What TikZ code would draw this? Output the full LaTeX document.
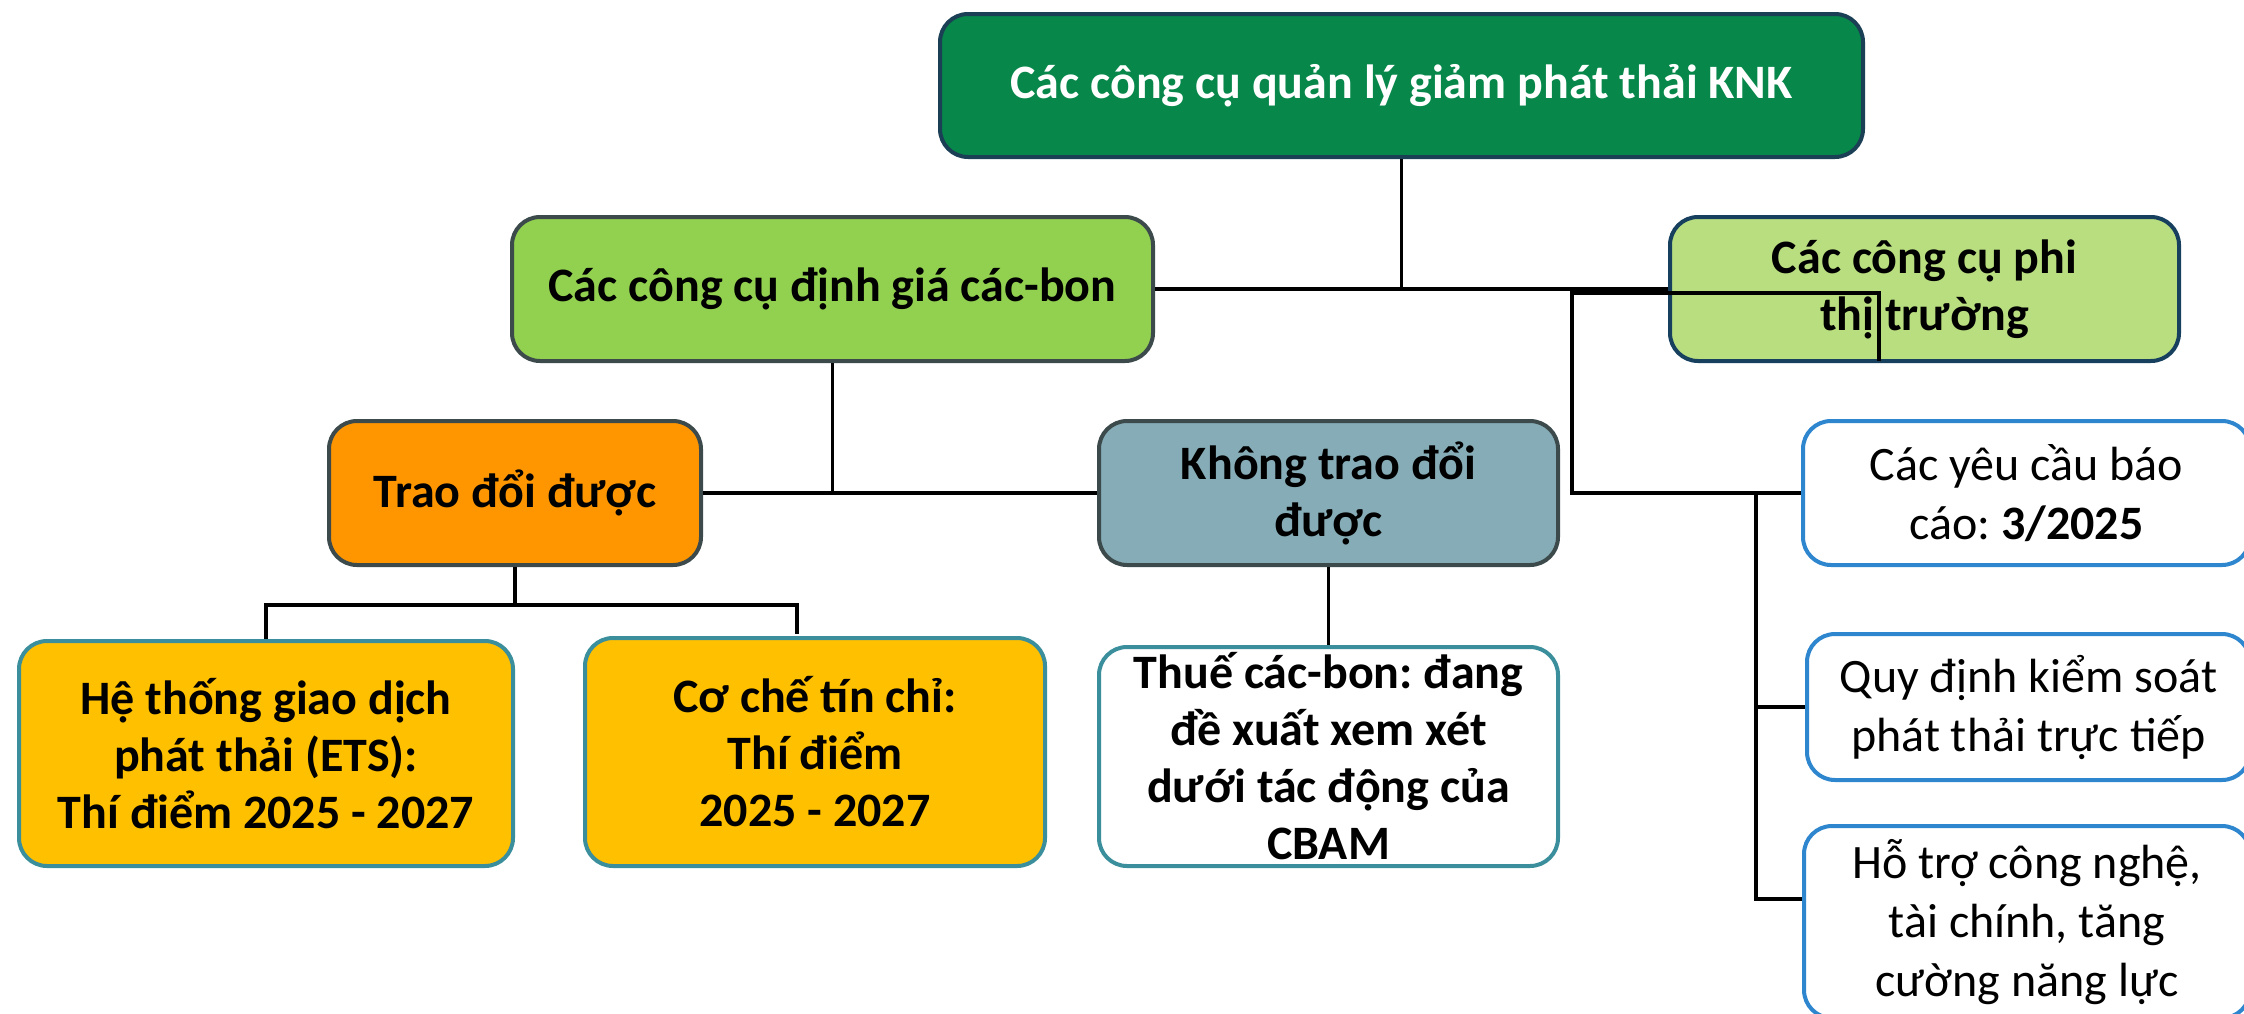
\documentclass[tikz,border=0pt]{standalone}
\usepackage{fontspec}
\setmainfont{Carlito}
\frenchspacing
\definecolor{topfill}{HTML}{07874A}
\definecolor{topline}{HTML}{1B3F55}
\definecolor{carbfill}{HTML}{92D050}
\definecolor{phifill}{HTML}{B9DE80}
\definecolor{philine}{HTML}{17405F}
\definecolor{grayline}{HTML}{3C4A4C}
\definecolor{orfill}{HTML}{FF9600}
\definecolor{khfill}{HTML}{86ADB7}
\definecolor{yelfill}{HTML}{FFC000}
\definecolor{tealline}{HTML}{3B8F9C}
\definecolor{blueline}{HTML}{2E86CE}
\begin{document}
\begin{tikzpicture}[x=0.5pt,y=-0.5pt,
  box/.style={draw, line width=2pt, rounded corners=14pt, inner sep=0pt, align=center,
    font=\frenchspacing\bfseries\fontsize{24}{28.5}\selectfont},
  wbox/.style={box, draw=blueline, fill=white, font=\frenchspacing\fontsize{24}{29.5}\selectfont},
  conn/.style={line width=1.7pt, black}]
\useasboundingbox (0,0) rectangle (2244,1013);

\node[box, fill=topfill, draw=topline, text=white, minimum width=461.5pt, minimum height=71.5pt] (top) at (1401.5,85.5) {Các công cụ quản lý giảm phát thải KNK};
\node[box, fill=carbfill, draw=grayline, minimum width=320.5pt, minimum height=72pt] (carbon) at (832.5,289) {Các công cụ định giá các-bon};
\node[box, fill=phifill, draw=philine, minimum width=254.5pt, minimum height=72pt] (phi) at (1924.5,289) {Các công cụ phi\\thị trường};
\node[box, fill=orfill, draw=grayline, minimum width=186pt, minimum height=72pt] (trao) at (515,493) {Trao đổi được};
\node[box, fill=khfill, draw=grayline, minimum width=229.5pt, minimum height=72pt] (khong) at (1328.5,493) {Không trao đổi\\được};
\node[box, fill=yelfill, draw=tealline, minimum width=247pt, minimum height=112.5pt] (ets) at (266,753.5) {Hệ thống giao dịch\\phát thải (ETS):\\Thí điểm 2025 - 2027};
\node[box, fill=yelfill, draw=tealline, minimum width=230pt, minimum height=114pt] (coche) at (815,752) {Cơ chế tín chỉ:\\Thí điểm\\2025 - 2027};
\node[box, fill=white, draw=tealline, minimum width=229.5pt, minimum height=109.5pt] (thue) at (1328.5,756.5) {Thuế các-bon: đang\\đề xuất xem xét\\dưới tác động của\\CBAM};
\node[wbox, minimum width=223.5pt, minimum height=72pt] (r1) at (2026.5,493) {Các yêu cầu báo\\cáo: \textbf{3/2025}};
\node[wbox, minimum width=221.5pt, minimum height=73pt] (r2) at (2028.5,707) {Quy định kiểm soát\\phát thải trực tiếp};
\node[wbox, minimum width=223pt, minimum height=96pt] (r3) at (2027,922) {Hỗ trợ công nghệ,\\tài chính, tăng\\cường năng lực};

% connectors
\draw[conn] (top.south) -- (top.south |- carbon.east);
\draw[conn] (carbon.east) -- (phi.west);
\coordinate (pb) at (1879,361);
\coordinate (tr) at (1756,493);
\draw[conn] (pb) -- (1879,293) -- (1572,293) -- (1572,493) -- (r1.west);
\draw[conn, line width=2pt] (tr) |- (r2.west);
\draw[conn, line width=2pt] (tr) |- ([yshift=11.5pt]r3.west);
\draw[conn] (carbon.south) -- (carbon.south |- trao.east);
\draw[conn] (trao.east) -- (khong.west);
\coordinate (tb) at (515,605);
\draw[conn] (trao.south) -- (tb);
\draw[conn, line width=2pt] (ets.north) -- (ets.north |- tb) -- (797,605) -- (797,634);
\draw[conn] (khong.south) -- (thue.north);
\end{tikzpicture}
\end{document}
